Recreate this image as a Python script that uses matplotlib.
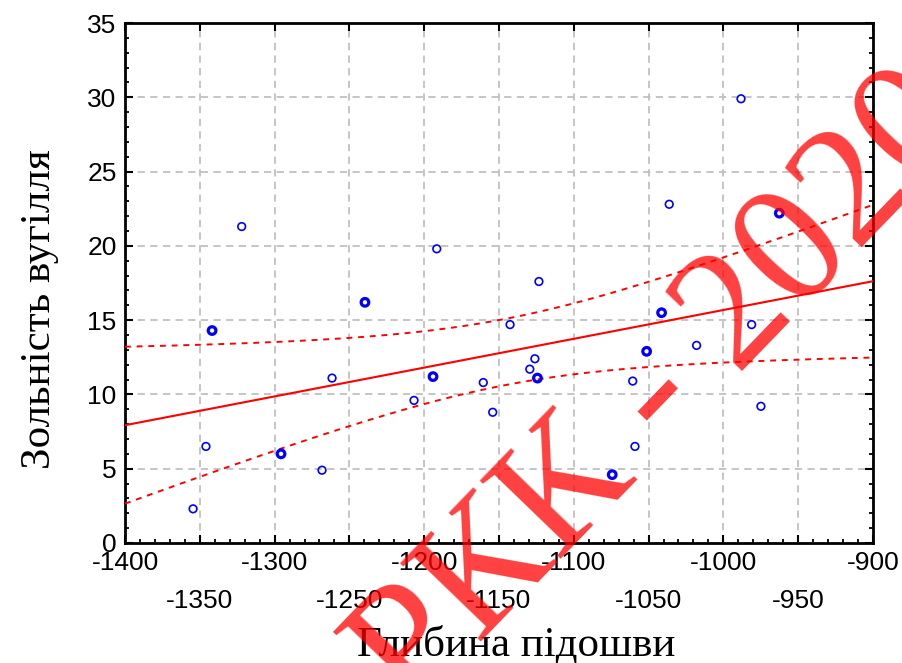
import numpy as np
import matplotlib
matplotlib.use("Agg")
import matplotlib.pyplot as plt
from matplotlib.ticker import MultipleLocator

# глибина підошви (x) і зольність вугілля (y)
depth = [-1354.5, -1345.9, -1341.8, -1322.0, -1295.7, -1268.3, -1261.6,
         -1239.6, -1206.8, -1194.1, -1191.6, -1160.5, -1154.2, -1142.6,
         -1126.0, -1129.4, -1124.3, -1123.3, -1074.3, -1060.6, -1059.1,
         -1051.3, -1041.3, -1036.2, -1017.9, -988.2, -981.1, -974.9, -962.6]
ash = [2.3, 6.5, 14.3, 21.3, 6.0, 4.9, 11.1,
       16.2, 9.6, 11.2, 19.8, 10.8, 8.8, 14.7,
       12.4, 11.7, 11.1, 17.6, 4.6, 10.9, 6.5,
       12.9, 15.5, 22.8, 13.3, 29.9, 14.7, 9.2, 22.2]
# точки, що на графіку збігаються з іншими (жирні кружки)
overlap = [-1341.8, -1295.7, -1239.6, -1194.1, -1124.3, -1074.3, -1051.3, -1041.3, -962.6]

x_major = [-1400, -1350, -1300, -1250, -1200, -1150, -1100, -1050, -1000, -950, -900]
y_major = [0, 5, 10, 15, 20, 25, 30, 35]

x = np.array(depth)
y = np.array(ash)

# лінійна регресія та 95% довірчий інтервал
n = len(x)
b, a = np.polyfit(x, y, 1)
xx = np.linspace(-1400, -900, 200)
yy = a + b * xx
resid = y - (a + b * x)
s = np.sqrt(np.sum(resid ** 2) / (n - 2))
sxx = np.sum((x - x.mean()) ** 2)
t = 2.052
band = t * s * np.sqrt(1 / n + (xx - x.mean()) ** 2 / sxx)

fig = plt.figure(figsize=(9.02, 6.63), dpi=100)
ax = fig.add_axes([0.1386, 0.181, 0.8292, 0.7843])

ax.grid(True, which="major", color="#c0c0c0", linestyle=(0, (4, 3)), linewidth=1.3)
ax.set_axisbelow(True)

ax.plot(xx, yy, color="red", linewidth=1.5, zorder=3)
ax.plot(xx, yy + band, color="red", linewidth=1.4, linestyle=(0, (3, 3)), zorder=3)
ax.plot(xx, yy - band, color="red", linewidth=1.4, linestyle=(0, (3, 3)), zorder=3)

bold = np.isin(x, overlap)
ax.scatter(x[~bold], y[~bold], s=30, facecolors="none",
           edgecolors="blue", linewidths=1.2, zorder=4)
ax.scatter(x[bold], y[bold], s=30, facecolors="none",
           edgecolors="blue", linewidths=2.3, zorder=4)

ax.set_xlim(-1400, -900)
ax.set_ylim(0, 35)
ax.set_xticks(x_major)
ax.set_xticklabels([str(v) if i % 2 == 0 else "\n" + str(v) for i, v in enumerate(x_major)])
ax.set_yticks(y_major)
ax.xaxis.set_minor_locator(MultipleLocator(10))
ax.yaxis.set_minor_locator(MultipleLocator(1))

for lbl in ax.get_xticklabels():
    lbl.set_linespacing(1.7)

ax.tick_params(axis="both", which="major", direction="in", length=6, width=1.5,
               labelsize=19, pad=6)
ax.tick_params(axis="both", which="minor", direction="in", length=3, width=1.3)
ax.tick_params(axis="x", which="major", top=True)
ax.tick_params(axis="y", which="both", right=True)
for lbl in ax.get_xticklabels() + ax.get_yticklabels():
    lbl.set_fontfamily("Liberation Sans")

for sp in ax.spines.values():
    sp.set_linewidth(2)

ax.set_xlabel("Глибина підошви", fontsize=31, fontfamily="Liberation Serif")
ax.set_ylabel("Зольність вугілля", fontsize=31, fontfamily="Liberation Serif")
ax.xaxis.set_label_coords(0.523, -0.16)
ax.yaxis.set_label_coords(-0.088, 0.45)

# водяний знак
fig.text(664 / 902, 1 - 392 / 663, "РКК - 2020", fontsize=124,
         fontfamily="Liberation Serif", color="red", alpha=0.75,
         rotation=46, rotation_mode="anchor", ha="center", va="center", zorder=10)

fig.savefig("out.png", dpi=100)
